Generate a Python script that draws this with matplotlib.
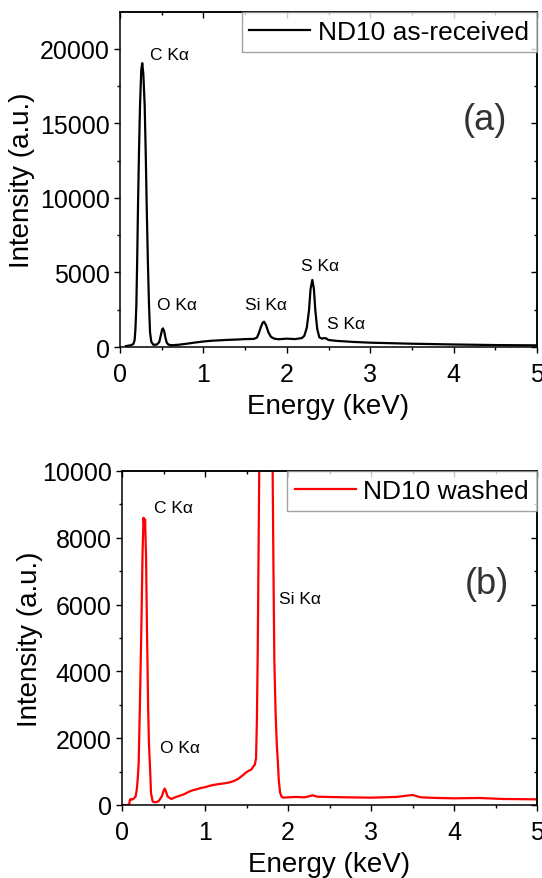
import matplotlib
matplotlib.use("Agg")
import matplotlib.pyplot as plt
from matplotlib.ticker import MultipleLocator

plt.rcParams["font.family"] = ["Liberation Sans", "DejaVu Sans"]

# EDS spectrum of the as-received sample (energy keV, counts)
energy_asrecv = [
    0.07, 0.10, 0.13, 0.16, 0.175, 0.185, 0.196, 0.206, 0.216, 0.228, 0.24,
    0.255, 0.267, 0.28, 0.296, 0.31, 0.32, 0.334, 0.348, 0.36, 0.375, 0.40,
    0.44, 0.47, 0.49, 0.505, 0.515, 0.53, 0.545, 0.56, 0.58, 0.62, 0.70, 0.80,
    0.90, 1.00, 1.10, 1.20, 1.30, 1.40, 1.50, 1.60, 1.64, 1.66, 1.69, 1.71,
    1.727, 1.75, 1.78, 1.81, 1.85, 1.90, 2.00, 2.10, 2.18, 2.21, 2.24, 2.266,
    2.285, 2.306, 2.325, 2.342, 2.365, 2.39, 2.42, 2.45, 2.47, 2.50, 2.60,
    2.80, 3.00, 3.50, 4.00, 4.50, 5.00,
]
counts_asrecv = [
    60, 90, 120, 200, 450, 1200, 2770, 5800, 9480, 13200, 16190,
    18600, 19050, 18300, 16190, 12600, 9480, 5800, 2770, 1000, 350, 150,
    160, 320, 800, 1180, 1250, 1050, 620, 300, 160, 120, 150, 220,
    300, 370, 420, 450, 480, 500, 530, 540, 620, 850, 1350, 1620,
    1700, 1480, 980, 680, 560, 520, 560, 530, 600, 750, 1300, 2450,
    3900, 4500, 3900, 2450, 1200, 650, 560, 600, 580, 470, 410,
    340, 290, 220, 170, 130, 110,
]

# EDS spectrum of the washed sample
energy_washed = [
    0.0, 0.085, 0.095, 0.105, 0.12, 0.145, 0.165, 0.18, 0.19, 0.201, 0.215,
    0.233, 0.248, 0.26, 0.27, 0.278, 0.29, 0.301, 0.315, 0.325, 0.335, 0.35,
    0.37, 0.40, 0.44, 0.48, 0.505, 0.515, 0.53, 0.55, 0.594, 0.65, 0.70,
    0.755, 0.80, 0.85, 0.90, 0.95, 0.996, 1.05, 1.10, 1.15, 1.237, 1.30,
    1.35, 1.398, 1.45, 1.498, 1.53, 1.558, 1.59, 1.60, 1.615, 1.625, 1.635,
    1.645, 1.655, 1.67, 1.70, 1.74, 1.78, 1.80, 1.815, 1.825, 1.835, 1.85,
    1.865, 1.876, 1.888, 1.904, 1.92, 1.94, 2.0, 2.1, 2.2, 2.3, 2.35, 2.5,
    2.7, 3.0, 3.3, 3.5, 3.6, 3.8, 4.0, 4.3, 4.6, 5.0,
]
counts_washed = [
    0, 0, 150, 180, 160, 200, 260, 500, 800, 1280, 2900,
    5270, 7600, 8600, 8250, 8550, 7400, 5270, 2900, 1800, 1280, 350,
    100, 80, 110, 260, 450, 490, 400, 250, 180, 240, 280,
    330, 390, 440, 470, 510, 530, 570, 600, 620, 650, 680,
    720, 780, 880, 980, 1030, 1060, 1180, 1200, 1400, 2500, 4500,
    7500, 10500, 15000, 24000, 30000, 24000, 15000, 10000, 7000, 4400, 2800,
    1800, 1380, 780, 380, 260, 220, 230, 240, 230, 290, 250, 240,
    230, 220, 240, 300, 230, 210, 200, 210, 180, 170,
]

# peak labels: (text, energy, counts)
peaks_asrecv = [("C K\u03b1", 0.36, 19600), ("O K\u03b1", 0.44, 2820),
                ("Si K\u03b1", 1.50, 2870), ("S K\u03b1", 2.17, 5440),
                ("S K\u03b1", 2.48, 1610)]
peaks_washed = [("C K\u03b1", 0.38, 8910), ("O K\u03b1", 0.46, 1730),
                ("Si K\u03b1", 1.89, 6170)]

W, H = 542, 879
fig = plt.figure(figsize=(W / 100, H / 100), dpi=100)


def style_axes(ax, ymax, ymajor, yminor):
    ax.set_xlim(0, 5)
    ax.set_ylim(0, ymax)
    ax.xaxis.set_major_locator(MultipleLocator(1))
    ax.xaxis.set_minor_locator(MultipleLocator(0.5))
    ax.yaxis.set_major_locator(MultipleLocator(ymajor))
    ax.yaxis.set_minor_locator(MultipleLocator(yminor))
    ax.tick_params(which="both", direction="out", width=1.0, labelsize=18)
    ax.tick_params(which="major", length=4)
    ax.tick_params(which="minor", length=2.5)
    ax.tick_params(axis="x", pad=7)
    for sp in ax.spines.values():
        sp.set_linewidth(1.1)

    # mirrored inward ticks on top and right
    top = ax.secondary_xaxis("top")
    top.xaxis.set_major_locator(MultipleLocator(1))
    top.xaxis.set_minor_locator(MultipleLocator(0.5))
    top.tick_params(which="both", direction="in", width=1.0, labeltop=False)
    top.tick_params(which="major", length=4)
    top.tick_params(which="minor", length=2.5)
    top.spines["top"].set_linewidth(1.1)
    right = ax.secondary_yaxis("right")
    right.yaxis.set_major_locator(MultipleLocator(ymajor))
    right.yaxis.set_minor_locator(MultipleLocator(yminor))
    right.tick_params(which="both", direction="in", width=1.0, labelright=False)
    right.tick_params(which="major", length=4)
    right.tick_params(which="minor", length=2.5)
    right.spines["right"].set_linewidth(1.1)

    ax.set_xlabel("Energy (keV)", fontsize=20, labelpad=5)
    ax.set_ylabel("Intensity (a.u.)", fontsize=20)


def add_legend(ax):
    leg = ax.legend(loc="upper right", bbox_to_anchor=(1, 1), borderaxespad=0,
                    fontsize=19, frameon=True, fancybox=False, handlelength=2.3,
                    handletextpad=0.3, borderpad=0.3)
    leg.get_frame().set_edgecolor("#8c8c8c")
    leg.get_frame().set_linewidth(1.0)


# (a) as-received
ax1 = fig.add_axes([120 / W, 1 - 348 / H, 417 / W, 335 / H])
ax1.plot(energy_asrecv, counts_asrecv, color="black", linewidth=1.6,
         label="ND10 as-received")
style_axes(ax1, 22480, 5000, 2500)
ax1.yaxis.set_label_coords(-0.203, 0.5)
for txt, e, c in peaks_asrecv:
    ax1.text(e, c, txt, fontsize=12.5, ha="left", va="center")
ax1.text(0.876, 0.678, "(a)", transform=ax1.transAxes, fontsize=26,
         color="#333333", ha="center", va="center")
add_legend(ax1)

# (b) washed
ax2 = fig.add_axes([122 / W, 1 - 806 / H, 415 / W, 334 / H])
ax2.plot(energy_washed, counts_washed, color="#ff0000", linewidth=1.6,
         label="ND10 washed")
style_axes(ax2, 10000, 2000, 1000)
ax2.yaxis.set_label_coords(-0.19, 0.5)
for txt, e, c in peaks_washed:
    ax2.text(e, c, txt, fontsize=12.5, ha="left", va="center")
ax2.text(0.88, 0.662, "(b)", transform=ax2.transAxes, fontsize=26,
         color="#333333", ha="center", va="center")
add_legend(ax2)

fig.savefig("out.png", dpi=100, facecolor="white")
